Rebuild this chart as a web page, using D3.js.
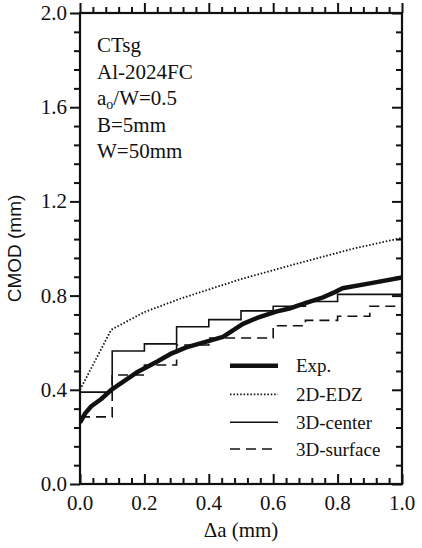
<!DOCTYPE html>
<html>
<head>
<meta charset="utf-8">
<script src="https://cdn.jsdelivr.net/npm/d3@7/dist/d3.min.js"></script>
<style>
  html, body { margin: 0; padding: 0; background: #fff; }
  svg { display: block; }
</style>
</head>
<body>
<svg id="chart" width="422" height="548"></svg>
<script>
// ---- data ----
const xTickValues = [0, 0.2, 0.4, 0.6, 0.8, 1.0];
const xTickLabels = ["0.0", "0.2", "0.4", "0.6", "0.8", "1.0"];
const yTickValues = [0, 0.4, 0.8, 1.2, 1.6, 2.0];
const yTickLabels = ["0.0", "0.4", "0.8", "1.2", "1.6", "2.0"];

const expX = [0, 0.016, 0.035, 0.065, 0.097, 0.13, 0.18, 0.24, 0.285, 0.33, 0.382, 0.444, 0.506, 0.55, 0.609, 0.65, 0.681, 0.75, 0.795, 0.815, 0.9, 1.0];
const expY = [0.26, 0.30, 0.33, 0.36, 0.40, 0.43, 0.477, 0.52, 0.555, 0.58, 0.60, 0.625, 0.68, 0.705, 0.732, 0.745, 0.76, 0.79, 0.817, 0.831, 0.852, 0.877];

const edzX = [0, 0.097, 0.2, 0.316, 0.5, 0.685, 0.85, 1.0];
const edzY = [0.40, 0.655, 0.73, 0.789, 0.87, 0.94, 1.0, 1.045];

const centerX = [0, 0.1, 0.2, 0.3, 0.4, 0.5, 0.6, 0.7, 0.8, 1.0];
const centerY = [0.39, 0.565, 0.595, 0.668, 0.698, 0.735, 0.755, 0.775, 0.805, 0.805];

const surfaceX = [0, 0.1, 0.2, 0.3, 0.4, 0.6, 0.7, 0.8, 0.9, 1.0];
const surfaceY = [0.285, 0.463, 0.505, 0.59, 0.62, 0.672, 0.695, 0.712, 0.755, 0.755];

const annotations = ["CTsg", "Al-2024FC", "a_o/W=0.5", "B=5mm", "W=50mm"];
const legendLabels = ["Exp.", "2D-EDZ", "3D-center", "3D-surface"];

// ---- layout ----
const SERIF = "'Liberation Serif', 'Times New Roman', Times, serif";
const SANS = "'Liberation Sans', Arial, Helvetica, sans-serif";
const L = 80, R = 402, T = 13, B = 484;
const svg = d3.select("#chart");
const x = d3.scaleLinear().domain([0, 1]).range([L, R]);
const y = d3.scaleLinear().domain([0, 2]).range([B, T]);

const ink = "#111";
const minorLen = 6, majorLen = 10;
const xMinor = d3.range(0, 1.0001, 0.04).filter(v => !xTickValues.some(m => Math.abs(m - v) < 1e-6));
const yMinor = d3.range(0, 2.0001, 0.08).filter(v => !yTickValues.some(m => Math.abs(m - v) < 1e-6));

function tickAxis(gen, tr, vals, len) {
  const g = svg.append("g").attr("transform", tr)
    .call(gen.tickValues(vals).tickSize(-len).tickFormat(""));
  g.select(".domain").remove();
  g.selectAll(".tick line").attr("stroke", ink).attr("stroke-width", 2);
  return g;
}
tickAxis(d3.axisBottom(x), `translate(0,${B})`, xMinor, minorLen);
tickAxis(d3.axisBottom(x), `translate(0,${B})`, xTickValues, majorLen);
tickAxis(d3.axisTop(x), `translate(0,${T})`, xMinor, -minorLen);
tickAxis(d3.axisTop(x), `translate(0,${T})`, xTickValues, -majorLen);
tickAxis(d3.axisLeft(y), `translate(${L},0)`, yMinor, -minorLen);
tickAxis(d3.axisLeft(y), `translate(${L},0)`, yTickValues, -majorLen);
tickAxis(d3.axisRight(y), `translate(${R},0)`, yMinor, minorLen);
tickAxis(d3.axisRight(y), `translate(${R},0)`, yTickValues, majorLen);

function txt(sel) {
  return sel.attr("font-family", SERIF).attr("fill", ink);
}

// tick labels
txt(svg.append("g").selectAll("text").data(xTickValues).join("text"))
  .attr("x", d => x(d)).attr("y", B + 26)
  .attr("text-anchor", "middle").attr("font-size", 21)
  .text((d, i) => xTickLabels[i]);
txt(svg.append("g").selectAll("text").data(yTickValues).join("text"))
  .attr("x", L - 13).attr("y", d => y(d) + 7)
  .attr("text-anchor", "end").attr("font-size", 21)
  .text((d, i) => yTickLabels[i]);

// axis titles
txt(svg.append("text")).attr("x", (L + R) / 2).attr("y", 537)
  .attr("text-anchor", "middle").attr("font-size", 21).text("\u0394a (mm)");
svg.append("text")
  .attr("transform", `translate(21,${(T + B) / 2}) rotate(-90)`)
  .attr("text-anchor", "middle").attr("font-size", 19)
  .attr("font-family", SANS).attr("fill", ink)
  .text("CMOD (mm)");

// series
svg.append("clipPath").attr("id", "clip")
  .append("rect").attr("x", L).attr("y", T).attr("width", R - L).attr("height", B - T);
const plot = svg.append("g").attr("clip-path", "url(#clip)");

const lin = d3.line().x(d => x(d[0])).y(d => y(d[1]));
const step = d3.line().x(d => x(d[0])).y(d => y(d[1])).curve(d3.curveStepAfter);
const zip = (a, b) => a.map((v, i) => [v, b[i]]);

const styles = [
  { w: 4.5, dash: null },
  { w: 1.8, dash: "1.5,1.9" },
  { w: 1.6, dash: null },
  { w: 1.6, dash: "10,6" }
];

plot.append("path").attr("d", step(zip(surfaceX, surfaceY)))
  .attr("fill", "none").attr("stroke", ink).attr("stroke-width", styles[3].w).attr("stroke-dasharray", styles[3].dash);
plot.append("path").attr("d", step(zip(centerX, centerY)))
  .attr("fill", "none").attr("stroke", ink).attr("stroke-width", styles[2].w);
plot.append("path").attr("d", lin(zip(edzX, edzY)))
  .attr("fill", "none").attr("stroke", ink).attr("stroke-width", styles[1].w).attr("stroke-dasharray", styles[1].dash);
plot.append("path").attr("d", lin(zip(expX, expY)))
  .attr("fill", "none").attr("stroke", ink).attr("stroke-width", styles[0].w).attr("stroke-linejoin", "round");

// frame
svg.append("rect").attr("x", L).attr("y", T).attr("width", R - L).attr("height", B - T)
  .attr("fill", "none").attr("stroke", ink).attr("stroke-width", 2.2);

// annotations
annotations.forEach((s, i) => {
  const t = txt(svg.append("text")).attr("x", 97).attr("y", 52 + i * 26.6).attr("font-size", 21);
  if (s.includes("_")) {
    const [a, rest] = s.split("_");
    t.append("tspan").text(a);
    t.append("tspan").attr("font-size", 14).attr("dy", 4).text(rest[0]);
    t.append("tspan").attr("dy", -4).text(rest.slice(1));
  } else {
    t.text(s);
  }
});

// legend
const legY = [365.7, 394.3, 422.3, 449];
legendLabels.forEach((lab, i) => {
  const st = styles[i];
  const ln = svg.append("line").attr("x1", 230).attr("x2", 278)
    .attr("y1", legY[i]).attr("y2", legY[i])
    .attr("stroke", ink).attr("stroke-width", st.w);
  if (st.dash) ln.attr("stroke-dasharray", st.dash);
  txt(svg.append("text")).attr("x", 296).attr("y", legY[i] + 6.5)
    .attr("font-size", 19).text(lab);
});
</script>
</body>
</html>
